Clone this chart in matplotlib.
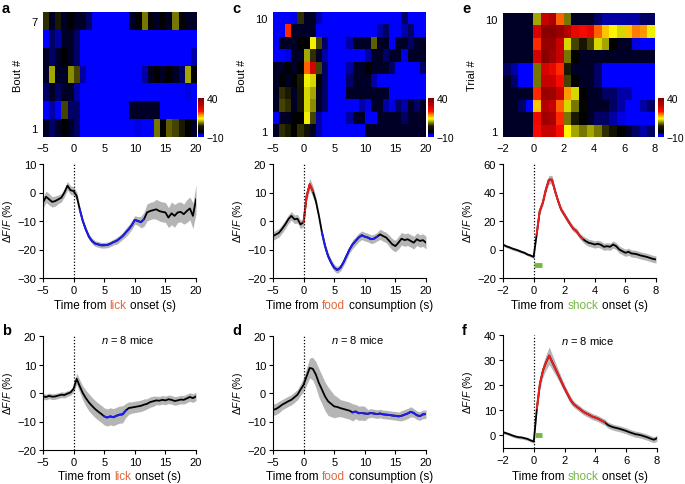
import numpy as np
import matplotlib
matplotlib.use("Agg")
import matplotlib.pyplot as plt
from matplotlib.colors import LinearSegmentedColormap
from matplotlib.offsetbox import TextArea, HPacker, AnnotationBbox

plt.rcParams['font.family'] = ['Liberation Sans', 'DejaVu Sans']
plt.rcParams['mathtext.fontset'] = 'custom'
plt.rcParams['mathtext.rm'] = 'Liberation Sans'
plt.rcParams['mathtext.it'] = 'Liberation Sans:italic'
plt.rcParams['font.size'] = 8

# ---------------- data ----------------
# heatmaps, rows listed from top (last bout/trial) to bottom (bout/trial 1)
# lick / food: 1 s bins from -5 to 20 s ; shock: 0.5 s bins from -2 to 8 s
heat_lick = [
    [5, -4, 4, -4, -3, -4, -4, -5, -10, -10, -10, -10, -10, -10, -4, -3, 8, -2, -4, -3, -4, 8, -2, -4, -4],
    [-9, -5, -6, -4, -4, -5, -10, -10, -10, -10, -10, -10, -10, -10, -10, -10, -10, -10, -8, -10, -8, -10, -8, -10, -8],
    [-4, -5, -4, -3, -4, -5, -10, -10, -10, -10, -10, -10, -10, -10, -10, -10, -10, -10, -10, -10, -10, -10, -10, -10, -6],
    [-4, 10, -4, -4, 9, 6, -6, -10, -10, -10, -10, -10, -10, -8, -10, -10, -6, -4, -3, -4, -3, -4, -5, 10, -3],
    [-5, -4, -5, -4, -4, -6, -10, -10, -10, -10, -10, -10, -10, -10, -10, -10, -10, -10, -10, -10, -10, -10, -10, -7, -10],
    [-9, -6, -8, 6, -5, -5, -10, -10, -10, -10, -10, -10, -10, -10, -4, -4, -4, -4, -4, -8, -10, -10, -10, -10, -10],
    [-4, -5, -4, -3, -4, -5, -10, -10, -10, -10, -10, -10, -10, -10, -10, -7, -10, -10, 8, -3, 7, 6, 4, -3, -4],
]
heat_food = [
    [-10, -10, -10, -7, 5, -4, -4, -6, -10, -10, -10, -9, -10, -10, -10, -10, -10, -10, -10, -10, -10, -5, -10, -10, -10],
    [-10, -10, 22, -4, -4, -4, -4, -8, -10, -10, -10, -10, -10, -10, -10, -10, -10, -6, -5, -10, -10, -6, -5, -10, -10],
    [-8, -4, -4, -4, -3, -3, 13, 6, -5, -8, -10, -10, -6, -4, -4, -4, 7, -4, -4, -8, -4, -4, -5, -4, -4],
    [-10, -10, -7, -4, -4, 10, 5, -4, -6, -10, -10, -10, -10, -10, -9, -6, -4, -4, -5, -4, -4, -7, -4, -4, -4],
    [-4, -4, -3, -4, -3, 20, 28, 6, -5, -10, -10, -10, -6, -4, -4, -3, -4, -4, -4, -5, -10, -10, -10, -10, -5],
    [-4, -3, -4, -3, 4, 13, 12, -2, -5, -10, -10, -10, -5, -4, -4, -4, -6, -10, -10, -10, -10, -10, -10, -10, -10],
    [-4, 5, 4, -4, 3, 12, 10, -4, -5, -10, -10, -8, -4, -4, -4, -4, -4, -4, -4, -8, -10, -10, -10, -10, -10],
    [-4, 6, 5, -4, 3, 12, 9, -4, -5, -10, -10, -10, -10, -9, -6, -7, -4, -4, -6, -7, -5, -6, -4, -5, -4],
    [-8, -4, -4, -3, -3, 13, 6, -6, -10, -10, -10, -10, -6, -4, -4, -8, -9, -4, -4, -4, -4, -5, -4, -4, -4],
    [-4, 5, 4, -3, 5, 2, -4, -6, -10, -10, -10, -10, -10, -10, -9, -4, -4, -4, -4, -4, -4, -4, -4, -4, -4],
]
heat_shock = [
    [-4, -4, -4, -4, 10, 30, 33, 20, 8, -4, -4, -4, -5, -6, -6, -6, -6, -6, -5, -5],
    [-4, -4, -4, -4, 28, 38, 38, 36, 32, 26, 24, 26, 20, 16, 14, 12, 16, 19, 18, 13],
    [-4, -4, -4, -4, 22, 36, 36, 30, 12, 6, 3, 6, 12, 10, -3, -4, -4, -7, -8, -8],
    [-4, -4, -4, -4, 28, 38, 35, 30, 8, -3, -4, -4, -4, -4, -4, -4, -4, -4, -4, -4],
    [-5, -6, -10, -10, 8, 28, 26, 22, 4, -4, -4, -4, -5, -9, -10, -10, -10, -10, -10, -10],
    [-4, -5, -10, -10, 8, 30, 30, 24, 6, -3, -4, -4, -5, -9, -10, -10, -10, -10, -10, -10],
    [-4, -4, -4, -4, 22, 36, 35, 30, 18, 12, -3, -4, -4, -5, -5, -6, -6, -8, -9, -9],
    [-4, -4, -5, -8, 16, 32, 30, 20, 12, 8, -2, -4, -4, -4, -5, -6, -8, -10, -6, -5],
    [-4, -4, -4, -4, 25, 35, 33, 22, 8, 4, -3, -4, -5, -5, -6, -7, -10, -10, -10, -10],
    [-4, -4, -4, -4, 24, 30, 30, 24, 14, 10, 8, 10, 8, 5, 2, -3, -4, -5, -6, -5],
]

# mean traces (dF/F %) and s.e.m.
time_long = np.linspace(-5, 20, 51)
time_shock = np.linspace(-2, 8, 51)

lick_bout = [-3.5, -1.5, -2.4, -3.3, -3.0, -2.4, -1.8, 0.0, 2.4, 0.8, 0.5,
             -1.2, -5.9, -10.0, -13.0, -15.5, -17.0, -17.9, -18.2, -18.5, -18.5,
             -18.4, -18.0, -17.4, -17.0, -16.2, -15.3, -14.1, -12.9, -11.5, -9.6,
             -10.0, -10.4, -9.4, -7.0, -6.5, -6.2, -5.9, -6.5, -6.8, -7.0,
             -8.8, -7.3, -8.2, -7.0, -6.8, -7.6, -6.5, -5.6, -8.2, -2.4]
lick_bout_sem = [2.0, 2.0, 2.0, 1.8, 1.8, 1.5, 1.5, 1.5, 1.5, 1.5, 1.5,
                 1.5, 1.2, 1.0, 1.0, 1.0, 1.0, 1.0, 1.0, 1.0, 1.0,
                 1.0, 1.0, 1.0, 1.2, 1.2, 1.2, 1.5, 1.5, 1.5, 1.5,
                 1.5, 2.0, 2.5, 3.0, 3.0, 3.0, 3.5, 3.5, 3.5, 3.5,
                 3.5, 4.0, 4.0, 3.5, 3.5, 3.5, 4.0, 4.0, 4.5, 5.0]
lick_mice = [-1.2, -1.4, -1.0, -1.3, -1.2, -0.9, -0.6, -0.7, -0.2, 0.2, 1.5,
             5.0, 2.4, 0.0, -1.8, -3.3, -4.5, -5.6, -6.5, -7.3, -8.2,
             -8.6, -8.2, -8.5, -8.0, -7.6, -7.5, -6.2, -5.3, -5.1, -4.9,
             -4.7, -4.5, -4.1, -3.8, -3.2, -2.9, -2.6, -2.7, -2.4, -2.6,
             -2.2, -2.4, -2.8, -2.6, -2.3, -2.4, -1.9, -1.4, -1.8, -1.2]
lick_mice_sem = [1.0, 1.0, 1.0, 1.0, 1.0, 1.0, 1.0, 1.0, 1.0, 1.0, 1.2,
                 2.0, 2.2, 2.5, 2.8, 3.0, 3.0, 3.0, 3.0, 3.0, 3.0,
                 3.0, 3.0, 3.0, 3.0, 3.0, 3.0, 2.5, 2.2, 2.0, 2.0,
                 2.0, 2.0, 2.0, 1.8, 1.8, 1.8, 1.5, 1.5, 1.5, 1.5,
                 1.5, 1.5, 1.5, 1.5, 1.5, 1.5, 1.5, 1.5, 1.5, 1.5]
food_bout = [-5.3, -4.7, -4.1, -2.7, -1.2, 0.6, 1.8, 0.6, 0.8, -1.2, -0.4,
             8.8, 12.9, 10.5, 7.0, 1.8, -4.1, -8.8, -12.3, -14.6, -16.4,
             -17.2, -16.4, -14.6, -12.3, -10.0, -8.2, -7.0, -5.8, -5.0, -5.5,
             -5.8, -6.4, -6.2, -5.5, -4.7, -5.3, -5.8, -7.0, -8.2, -8.8,
             -7.6, -6.2, -6.7, -6.4, -7.0, -7.6, -6.4, -7.0, -6.7, -7.6]
food_bout_sem = [1.5, 1.5, 1.5, 1.5, 1.5, 1.5, 1.5, 1.5, 1.5, 1.5, 1.5,
                 1.8, 2.0, 2.0, 1.5, 1.2, 1.2, 1.2, 1.2, 1.2, 1.2,
                 1.2, 1.2, 1.2, 1.2, 1.2, 1.5, 1.5, 1.5, 1.5, 1.5,
                 1.5, 1.5, 1.5, 1.5, 1.8, 1.8, 1.8, 2.0, 2.0, 2.0,
                 2.2, 2.2, 2.2, 2.2, 2.2, 2.2, 2.2, 2.2, 2.2, 2.2]
food_mice = [-5.9, -5.6, -4.9, -4.1, -3.5, -2.9, -2.4, -1.5, -0.6, 1.2, 2.9,
             5.9, 8.8, 8.5, 6.5, 3.5, 1.2, -1.2, -2.9, -3.8, -4.7,
             -4.9, -5.3, -5.6, -5.9, -6.2, -6.8, -6.5, -7.1, -7.0, -7.2,
             -7.3, -7.0, -7.2, -7.4, -7.2, -7.5, -7.6, -7.7, -7.9, -8.0,
             -8.2, -8.0, -7.6, -7.2, -6.6, -7.0, -7.8, -8.1, -7.5, -7.4]
food_mice_sem = [2.0, 2.0, 2.0, 1.8, 1.8, 1.8, 1.8, 1.8, 1.8, 2.0, 2.5,
                 3.0, 3.5, 4.0, 4.5, 5.0, 5.0, 5.0, 5.0, 4.5, 4.0,
                 3.5, 3.0, 3.0, 3.0, 3.0, 3.0, 2.5, 2.5, 2.5, 2.5,
                 1.5, 1.5, 1.5, 1.5, 1.5, 1.5, 1.5, 1.5, 1.5, 1.5,
                 1.5, 1.8, 1.8, 1.8, 1.8, 1.5, 1.5, 1.5, 1.5, 1.5]
shock_trial = [3.5, 2.3, 1.6, 0.7, 0.0, -0.7, -1.6, -2.3, -3.5, -4.2, -5.2,
               10.5, 27.0, 32.8, 42.0, 49.0, 49.0, 41.0, 34.0, 28.0, 24.6,
               21.0, 17.6, 14.5, 12.9, 9.8, 7.5, 5.9, 4.7, 4.2, 3.5,
               4.0, 3.3, 1.9, 2.3, 1.9, 3.5, 2.3, 0.0, -1.2, -2.3,
               -1.6, -2.8, -3.0, -3.5, -4.2, -4.7, -5.2, -5.9, -6.6, -7.0]
shock_trial_sem = [1.0, 1.0, 1.0, 1.0, 1.0, 1.0, 1.0, 1.0, 1.0, 1.0, 1.0,
                   1.5, 2.0, 2.0, 2.5, 3.0, 3.0, 2.5, 2.0, 2.0, 2.0,
                   2.0, 2.0, 2.0, 2.0, 2.0, 2.2, 2.5, 2.5, 2.5, 2.5,
                   2.5, 2.5, 2.5, 2.5, 2.5, 2.5, 2.5, 2.5, 2.5, 2.5,
                   2.5, 2.5, 2.5, 2.5, 2.5, 2.5, 2.5, 2.5, 2.5, 2.5]
shock_mice = [1.3, 0.9, 0.5, 0.0, -0.4, -0.7, -0.8, -1.1, -1.4, -2.0, -2.4,
              10.8, 20.7, 26.0, 29.2, 31.8, 29.2, 26.6, 24.0, 21.3, 18.7,
              16.3, 14.0, 12.4, 11.4, 10.5, 9.5, 8.8, 8.2, 7.5, 7.1,
              6.6, 5.9, 5.3, 4.2, 3.6, 3.2, 2.9, 2.6, 2.2, 1.8,
              1.3, 0.9, 0.5, 0.3, 0.0, -0.4, -0.8, -1.3, -1.7, -1.1]
shock_mice_sem = [0.6, 0.6, 0.6, 0.6, 0.6, 0.6, 0.6, 0.6, 0.6, 0.6, 0.8,
                  1.5, 2.0, 2.5, 3.0, 3.5, 3.0, 2.5, 2.0, 1.8, 1.5,
                  1.5, 1.5, 1.2, 1.2, 1.2, 1.2, 1.2, 1.2, 1.2, 1.2,
                  1.2, 1.2, 1.2, 1.2, 1.2, 1.2, 1.2, 1.2, 1.2, 1.2,
                  1.2, 1.2, 1.2, 1.2, 1.2, 1.2, 1.2, 1.2, 1.2, 1.2]

# significant epochs (start s, end s, colour)
BLUE, RED = '#1c1cf0', '#f01c1c'
sig_lick_bout = [(1.0, 11.5, BLUE)]
sig_lick_mice = [(5.0, 8.5, BLUE)]
sig_food_bout = [(0.0, 1.5, RED), (3.0, 12.0, BLUE)]
sig_food_mice = [(8.0, 20.0, BLUE)]
sig_shock_trial = [(0.2, 3.2, RED)]
sig_shock_mice = [(0.2, 4.6, RED)]
shock_on, shock_off = 0.05, 0.55

# ---------------- style ----------------
cmap = LinearSegmentedColormap.from_list('blkhot', [
    (0.00, (0, 0, 1)), (0.05, (0, 0, 1)), (0.13, (0, 0, 0)),
    (0.28, (0.1, 0.1, 0)), (0.38, (0.55, 0.55, 0)), (0.47, (1, 1, 0)),
    (0.56, (1, 0.6, 0)), (0.66, (1, 0.05, 0)), (0.82, (0.75, 0, 0)),
    (1.00, (0.48, 0, 0))])

W, H = 685, 485
fig = plt.figure(figsize=(W / 100, H / 100), dpi=100)


def rect(x0, y0, x1, y1):
    return [x0 / W, 1 - y1 / H, (x1 - x0) / W, (y1 - y0) / H]


def heatmap(r, cr, data, x0, x1, xticks, ylabel, lab_x):
    ax = fig.add_axes(rect(*r))
    n = len(data)
    im = ax.imshow(np.array(data), cmap=cmap, vmin=-10, vmax=40, aspect='auto',
                   interpolation='nearest', extent=[x0, x1, 0.5, n + 0.5])
    ax.set_xlim(x0, x1)
    ax.set_xticks(xticks)
    ax.set_yticks([1, n])
    ax.tick_params(length=0, pad=4, labelsize=8)
    for s in ax.spines.values():
        s.set_visible(False)
    ax.set_ylabel(ylabel, fontsize=8)
    ax.yaxis.set_label_coords(lab_x, 0.5)
    cax = fig.add_axes(rect(*cr))
    cb = fig.colorbar(im, cax=cax, ticks=[-10, 40])
    cb.outline.set_visible(False)
    cb.ax.set_yticklabels(['\u221210', '40'])
    cb.ax.tick_params(length=0, pad=2, labelsize=7.5)
    return ax


def trace(r, t, y, sem, sig, xlim, xticks, ylim, yticks):
    ax = fig.add_axes(rect(*r))
    y = np.array(y)
    sem = np.array(sem)
    ax.fill_between(t, y - sem, y + sem, color='#b5b5b5', lw=0)
    ax.plot(t, y, color='black', lw=1.3)
    for start, end, col in sig:
        m = (t >= start - 1e-6) & (t <= end + 1e-6)
        ax.plot(t[m], y[m], color=col, lw=1.4)
    ax.axvline(0, color='black', ls=(0, (1, 1.5)), lw=0.9)
    ax.set_xlim(*xlim)
    ax.set_ylim(*ylim)
    ax.set_xticks(xticks)
    ax.set_yticks(yticks)
    ax.spines[['top', 'right']].set_visible(False)
    ax.spines[['left', 'bottom']].set_linewidth(0.8)
    ax.tick_params(length=3, width=0.8, pad=2, labelsize=8)
    ax.set_ylabel(r'$\Delta F/F$ (%)', fontsize=7.5)
    ax.yaxis.set_label_coords(-0.18, 0.5)
    return ax


def xlabel(ax, before, word, after, col, x=0.5, y=-0.24):
    parts = [TextArea(before, textprops=dict(color='black', size=8.5)),
             TextArea(word, textprops=dict(color=col, size=8.5)),
             TextArea(after, textprops=dict(color='black', size=8.5))]
    box = HPacker(children=parts, align='baseline', pad=0, sep=2.4)
    ax.add_artist(AnnotationBbox(box, (x, y), xycoords='axes fraction',
                                 frameon=False, box_alignment=(0.5, 0.5), pad=0))


ORANGE, GREEN = '#e2673a', '#74b843'
ticks_long = [-5, 0, 5, 10, 15, 20]
ticks_short = [-2, 0, 2, 4, 6, 8]

# column 1: lick
heatmap((43, 13, 196, 138), (198, 99, 204, 138), heat_lick, -5, 20, ticks_long, 'Bout #', -0.13)
ax = trace((43, 165, 196, 279), time_long, lick_bout, lick_bout_sem, sig_lick_bout,
           (-5, 20), ticks_long, (-30, 10), [-30, -20, -10, 0, 10])
xlabel(ax, 'Time from', 'lick', 'onset (s)', ORANGE, x=0.47)
ax = trace((43, 337, 196, 451), time_long, lick_mice, lick_mice_sem, sig_lick_mice,
           (-5, 20), ticks_long, (-20, 20), [-20, -10, 0, 10, 20])
xlabel(ax, 'Time from', 'lick', 'onset (s)', ORANGE, y=-0.23)
ax.text(0.55, 0.97, r'$n$ = 8 mice', transform=ax.transAxes, ha='center', va='center', fontsize=8)

# column 2: food
heatmap((273, 13, 426, 138), (428, 99, 434, 138), heat_food, -5, 20, ticks_long, 'Bout #', -0.17)
ax = trace((273, 165, 426, 279), time_long, food_bout, food_bout_sem, sig_food_bout,
           (-5, 20), ticks_long, (-20, 20), [-20, -10, 0, 10, 20])
xlabel(ax, 'Time from', 'food', 'consumption (s)', ORANGE)
ax = trace((273, 337, 426, 451), time_long, food_mice, food_mice_sem, sig_food_mice,
           (-5, 20), ticks_long, (-20, 20), [-20, -10, 0, 10, 20])
xlabel(ax, 'Time from', 'food', 'consumption (s)', ORANGE, y=-0.23)
ax.text(0.55, 0.97, r'$n$ = 8 mice', transform=ax.transAxes, ha='center', va='center', fontsize=8)

# column 3: shock
heatmap((503, 14, 655, 138), (658, 99, 664, 138), heat_shock, -2, 8, ticks_short, 'Trial #', -0.17)
ax = trace((503, 165, 656, 279), time_shock, shock_trial, shock_trial_sem, sig_shock_trial,
           (-2, 8), ticks_short, (-20, 60), [-20, 0, 20, 40, 60])
ax.plot([shock_on, shock_off], [-11, -11], color=GREEN, lw=3.5, solid_capstyle='butt')
xlabel(ax, 'Time from', 'shock', 'onset (s)', GREEN)
ax = trace((503, 336, 657, 449), time_shock, shock_mice, shock_mice_sem, sig_shock_mice,
           (-2, 8), ticks_short, (-5, 40), [0, 10, 20, 30, 40])
ax.plot([shock_on, shock_off], [0, 0], color=GREEN, lw=3.5, solid_capstyle='butt')
xlabel(ax, 'Time from', 'shock', 'onset (s)', GREEN, y=-0.25)
ax.text(0.55, 0.96, r'$n$ = 8 mice', transform=ax.transAxes, ha='center', va='center', fontsize=8)

# panel letters
for letter, (px, py) in zip('abcdef', [(2, 9), (2, 331), (232, 9), (232, 331), (462, 9), (462, 331)]):
    fig.text(px / W, 1 - py / H, letter, fontsize=10.5, fontweight='bold', va='center', ha='left')

fig.savefig('out.png', dpi=100)
